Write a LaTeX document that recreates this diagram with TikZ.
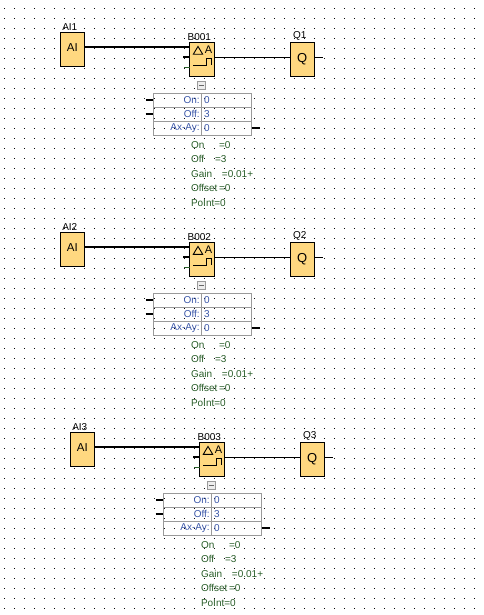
\documentclass[tikz,border=0pt]{standalone}
\usepackage{fontspec}
\setmainfont{Liberation Sans}
\usetikzlibrary{positioning}
\definecolor{blockfill}{HTML}{FFD880}
\definecolor{cellblue}{HTML}{3A56A8}
\definecolor{pargreen}{HTML}{2A5E2A}
\definecolor{cellgray}{HTML}{9A9A9A}

\begin{document}
\begin{tikzpicture}[x=1pt,y=-1pt]
	\tikzstyle{main}=[rectangle, draw=black, thick, fill=blockfill, minimum width=24.5pt, minimum height=34.5pt, inner sep=0pt, outer sep=0pt, font=\fontsize{13}{13}\selectfont]
	\tikzstyle{tag}=[font=\fontsize{10}{10}\selectfont, inner sep=0pt, xshift=-2.5pt, label distance=1.5pt]
	\tikzstyle{thickwire}=[line width=2pt]
	\tikzstyle{thinwire}=[line width=0.9pt]
	\tikzstyle{cellname}=[rectangle, draw=cellgray, thick, text=cellblue, minimum width=48.4pt, minimum height=14pt, text width=44.4pt, inner xsep=2pt, inner ysep=0pt, outer sep=0pt, align=right, font=\fontsize{10}{10}\selectfont]
	\tikzstyle{cellvalue}=[rectangle, draw=cellgray, thick, text=cellblue, minimum width=50pt, minimum height=14pt, text width=45pt, inner xsep=2.5pt, inner ysep=0pt, outer sep=0pt, align=left, font=\fontsize{10}{10}\selectfont]
	\tikzstyle{par}=[text=pargreen, text width=70pt, minimum height=14pt, inner sep=0pt, align=left, font=\fontsize{10}{10}\selectfont]
	\useasboundingbox (0,0) rectangle (483,615);
	\fill[white] (0,0) rectangle (483,615);
	% grid
	\foreach \x in {4,14,...,474}
		\foreach \y in {8,18,...,608}
			\fill[black] (\x,\y) rectangle +(1,1);

	\foreach \n/\dx/\dy in {1/0/0, 2/0/200, 3/10/400} {
	\begin{scope}[shift={(\dx,\dy)}]
	  \node[main] (ai\n) at (72.3,49.4) [label={[tag]above:AI\n}] {\raisebox{3pt}{\fontsize{11.5}{11.5}\selectfont AI}};
	  \node[main] (b\n) [right=105pt of ai\n, yshift=-10pt, label={[tag]above:B00\n}] {};
	  \node[main] (q\n) [right=76pt of b\n, label={[tag]above:Q\n}] {\raisebox{3pt}{Q}};
	  \node[rectangle, draw=cellgray, thick, fill=black!7, minimum size=8pt, inner sep=0pt] (fold\n) [below=4pt of b\n] {};
	  \node[cellname] (on\n) at (177.5,100.2) {On:};
	  \node[cellvalue] (onv\n) [right=0pt of on\n] {0};
	  \node[cellname] (off\n) [below=0pt of on\n] {Off:};
	  \node[cellvalue] (offv\n) [right=0pt of off\n] {3};
	  \node[cellname] (ax\n) [below=0pt of off\n] {Ax-Ay:};
	  \node[cellvalue] (axv\n) [right=0pt of ax\n] {0};
	  \node[par] (pon\n) at (226,145) {\makebox[28pt][l]{On}=0};
	  \node[par] (poff\n) [below=0pt of pon\n] {\makebox[24pt][l]{Off}=3};
	  \node[par] (pgain\n) [below=0pt of poff\n] {\makebox[31pt][l]{Gain}=0.01+};
	  \node[par] (pset\n) [below=0pt of pgain\n] {\makebox[28pt][l]{Offset}=0};
	  \node[par] (pnt\n) [below=0pt of pset\n] {PoInt=0};

	  \coordinate (in\n) at (190,46.7);
	  \coordinate (mid\n) at (183,57.3);
	  \coordinate (low\n) at (184,67);
	  \coordinate (out\n) at (215,57.3);
	  \coordinate (end\n) at (323,57.3);
	  \coordinate (ons\n) at (145.5,100.2);
	  \coordinate (ofs\n) at (145.5,114.2);
	  \coordinate (axs\n) at (259.5,128.2);

	  \draw[thickwire] (ai\n.east |- in\n) -- (in\n);
	  \draw[thickwire] (mid\n) -- (mid\n -| b\n.west);
	  \draw[thinwire, pargreen] (low\n) -- (low\n -| b\n.west);
	  \draw[thinwire] (out\n) -- (out\n -| q\n.west);
	  \draw[thinwire] (q\n.east |- end\n) -- (end\n);
	  \draw[thickwire] (ons\n) -- (on\n);
	  \draw[thickwire] (ofs\n) -- (off\n);
	  \draw[thickwire] (axv\n) -- (axs\n);

	  % symbol in the block
	  \draw[thinwire] (193.3,54.3) -- (198,46.4) -- (202.7,54.3) -- cycle;
	  \node[font=\fontsize{11}{11}\selectfont, inner sep=0pt] (amp\n) at (208.5,50) {A};
	  \draw[thinwire] (193,65) -- (206.7,65) -- (206.7,58) -- (211,58) -- (211,65);
	  \draw[thinwire, black!60] (fold\n.west) ++(1.5,0) -- ++(5,0);
	\end{scope}
	}
\end{tikzpicture}
\end{document}
